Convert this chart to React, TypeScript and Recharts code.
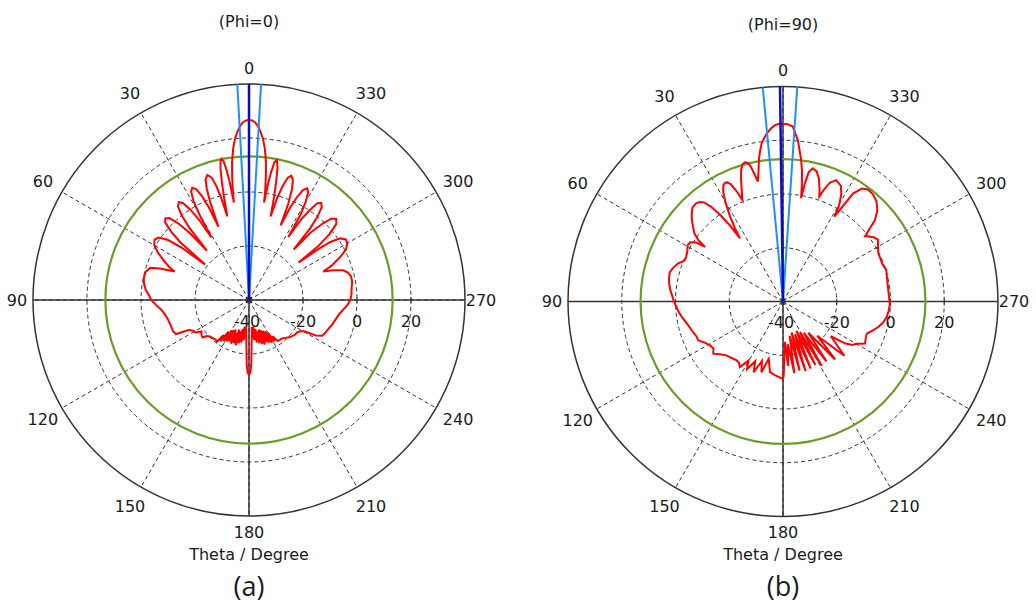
import React from "react";
import {
  PolarAngleAxis,
  PolarGrid,
  PolarRadiusAxis,
  Radar,
  RadarChart,
} from "recharts";

// theta (deg) / gain (dB)
const PHI0_PATTERN: [number, number][] = [
  [0, 26.7], [1, 26.5], [2, 25.8], [3, 24.4], [4, 22.3], [5, 19.8], [6, 16.3], [7, 11.5], [7.8, 6], [8.4, 1], [8.8, -3.5],
  [9.3, 4], [9.8, 9], [10.4, 12.3], [11, 13.2], [11.6, 12.5], [12.3, 9.5], [13, 4.5], [13.7, -1], [14.5, -8],
  [15.2, -1], [16, 4], [17, 7.5], [18.4, 8.8], [19.8, 7.5], [20.8, 4], [21.7, -1.5], [22.6, -10.6],
  [23.4, -3], [24.3, 2], [25.5, 5.5], [26.8, 6.6], [28.1, 5.5], [29.3, 2], [30.2, -4], [31, -13],
  [31.9, -5], [33, 0], [34.3, 3.5], [35.7, 4.6], [37.2, 3.5], [38.5, 0], [39.6, -5.5], [40.5, -16],
  [41.5, -7], [42.7, -1.5], [44.2, 2.3], [45.7, 3.3], [47.2, 2.3], [48.7, -1.5], [50, -7], [51, -19],
  [52.2, -8], [53.5, -2.5], [55.5, 0.8], [57.5, 1.5], [60, 0.5], [62.5, -2], [65, -5], [67.5, -8], [69, -10.5],
  [70.5, -5], [72, -1.5], [75, -0.3], [78, -0.2], [81, -0.6], [84.5, -1.6], [87, -2.8], [90, -3.8],
  [93, -5.5], [96.5, -7.4], [100, -8.5], [104, -9.2], [108, -9.5], [112.5, -9.6], [115, -10.2], [116.5, -15],
  [119, -16.5], [121, -16.7], [123.5, -18.9], [126, -18.2], [129, -17.9], [130.5, -19.5], [133, -20.2],
  [137, -20.6], [140, -20.8], [142.5, -20.5],
  [144, -24], [145.5, -21.5], [147, -26], [148.5, -22], [150, -27], [151.5, -22.5], [153, -27.5], [154.5, -23],
  [156, -28], [157.5, -22.5], [159, -27], [160.5, -23], [162, -28.5], [163.5, -22.5], [165, -28], [166.5, -23.5],
  [168, -29], [169.5, -24], [171, -30], [172.5, -25], [174, -30], [175.5, -27], [177, -22], [178, -16],
  [179, -13], [180, -12.3], [181, -13], [182, -16], [183, -22],
  [184.5, -27], [186, -30], [187.5, -25], [189, -30], [190.5, -24], [192, -29], [193.5, -23.5], [195, -28],
  [196.5, -23], [198, -28.5], [199.5, -22.5], [201, -28], [202.5, -23], [204, -27.5], [205.5, -22.5], [207, -27],
  [208.5, -22], [210, -26], [211.5, -22], [213, -24], [215, -21.5],
  [217, -21.3], [220.5, -21.3], [224, -20.5], [228, -19.5], [233, -18.7], [236, -18.5], [238.5, -17.8],
  [240.5, -16.5], [242, -12], [244, -9.8], [246.5, -9.3], [250, -8.7], [253, -8], [257, -7.2], [260.5, -6.4],
  [264, -5], [267, -3.5], [270, -2.5],
  [273, -2], [276, -1.8], [280, -1.2], [283, -1.2], [285.5, -2], [287.5, -3.5], [289.5, -7], [291, -10.5],
  [292.5, -7], [295, -3], [297.5, 0.5], [300, 2], [302, 2.3], [304, 0.8], [305.5, -3], [306.3, -8], [307, -17],
  [308, -7], [309.3, -1.5], [311, 2.8], [312.9, 4.1], [314.6, 3], [316, -0.5], [317.5, -6], [318.5, -15],
  [319.5, -5], [320.6, 0], [322, 3.8], [323.4, 4.8], [324.8, 3.8], [326, 0], [327.1, -4.5], [328, -12.5],
  [328.9, -3], [330, 2], [331.2, 5.5], [332.5, 6.6], [333.8, 5.5], [335, 2], [336.1, -3], [337, -10],
  [337.8, -1.5], [338.8, 4], [340, 7.5], [341.2, 8.6], [342.4, 7.5], [343.5, 4], [344.6, -1], [345.5, -8],
  [346.3, -1], [347, 4.5], [347.8, 10], [348.7, 12.8], [349.5, 12], [350.2, 8], [350.7, 3.5], [351.2, -3.5],
  [351.6, 1], [352.2, 6], [353, 11.5], [354, 16.3], [355, 19.8], [356, 22.3], [357, 24.4], [358, 25.8],
  [359, 26.5], [360, 26.7],
];

const PHI90_PATTERN: [number, number][] = [
  [0, 26.1], [1, 26.2], [2.6, 25.7], [4, 24.5], [5.5, 22.9], [7.7, 19.4], [8.8, 16.2], [9.6, 13.7], [10.6, 9.5], [11.8, 5.6],
  [12.6, 8.5], [13.5, 11.8], [14.4, 13.3], [15.3, 13.7], [16.4, 13.2], [17.6, 11.5], [19, 8], [20.4, 4], [21.8, 0.7],
  [22.8, 4.5], [24, 7.7], [25, 8.9], [26, 9.2], [27.2, 8.6], [28.6, 6.5], [30.2, 2.5], [32, -3], [33.3, -7.5], [34.2, -11.6],
  [35, -5], [36, 0], [37.3, 4.5], [38.6, 7.2], [40, 8.3], [41.5, 8.8], [44, 8.5], [46, 7.2], [48.2, 5.5],
  [50.5, 3.3], [52.5, 1.5], [54, -1], [55, -4.6],
  [55.8, -1], [57.5, 1], [59.5, 1.2], [62, 0.3], [65, -0.3], [67.5, -0.3], [70, 1.5], [72.5, 2.6], [75.5, 3.5],
  [78.5, 3.3], [81, 2.9], [84, 2.2], [87, 1.3], [90, 0.6],
  [91.2, 0.2], [95, -0.8], [98.7, -1.9], [102.8, -3.3], [107.5, -4.4], [112, -5.3], [114.6, -5.3], [117.5, -7],
  [121, -8.3], [124, -8.8], [126.8, -7.6], [130, -9.5], [133.7, -11], [137, -11.5], [141.8, -12.1], [144, -12],
  [146.7, -10.8], [149.7, -14.5], [152, -11.5], [155, -15.5], [157.5, -11.5], [160.5, -16.5], [163, -12.5],
  [166, -18], [169.6, -13.3], [172, -12.8], [174, -12.4], [177, -11.8], [179.5, -11.3], [180.5, -12], [181.5, -20],
  [182.8, -25],
  [184.5, -16], [186.5, -24], [189, -13], [191, -27], [193.5, -13.5], [195.5, -28], [198, -12.7], [200, -27],
  [202.5, -13], [204.5, -28], [207, -13.5], [209, -27], [211, -12], [213.5, -26], [216, -12.5], [219, -25],
  [222, -11], [225, -22], [228.5, -9.5], [231, -14], [234, -18], [236, -12], [238, -9.5], [240, -8.5],
  [242.8, -5.7], [246, -6.3], [249, -6.6], [252, -5], [255, -3.3], [258, -2], [261.5, -1], [265, -0.5], [268.8, -0.2],
  [272, -0.5], [276, -0.6], [282, -0.4], [287, 0.2], [291, -0.5], [294, -0.4], [297, -0.2], [300, 0.8], [303, 2.2],
  [305, 1.5], [307, 0.2], [308.5, -1],
  [310, 2], [311.5, 5.7], [314, 8.8], [317, 11], [320, 12.1], [322.8, 12.3], [325, 11.3], [327, 8], [328.8, -3.1],
  [329.8, 1.5], [331.5, 5.5], [333.5, 8.2], [336.4, 9.3], [338.5, 7.5], [340, 4], [340.9, 1.3],
  [342, 4], [343.8, 7.8], [345.5, 10], [347.4, 10.8], [348.8, 9], [349.6, 4], [350.1, -1],
  [350.8, 4], [351.7, 9], [352.7, 13.1], [354, 17.5], [354.8, 20.4], [356.8, 25.2], [358.5, 26], [360, 26.1],
];

// side lobe level (green circle), dB
const SLL_PHI0 = 13.2;
const SLL_PHI90 = 13.0;

// main lobe direction and 3 dB edges, deg
const MAIN_DIR = [0, 0.8];
const BEAM_EDGES: [number, number][] = [
  [3.1, 356.8],
  [5.4, 356.2],
];

const ANGLE_TICKS = [0, 30, 60, 90, 120, 150, 180, 210, 240, 270, 300, 330];
const AXIS_ANGLES = [0, 90, 180, 270];
const RADIUS_TICKS = [-40, -20, 0, 20];
const RADIUS_DOMAIN: [number, number] = [-40, 40];
const ANGLE_DOMAIN: [number, number] = [0, 360];

const W = 518;
const H = 605;
const FONT = '"DejaVu Sans", Verdana, sans-serif';
const TEXT = "#1a1a1a";

function AngleTick(props: any) {
  const { x, y, payload } = props;
  const a = (payload.coordinate * Math.PI) / 180;
  const extra = payload.value % 90 === 0 ? 0 : 6;
  const nudge = Math.cos(a) > 0.1 && Math.cos(a) < 0.99 ? 3 : 0;
  return (
    <text
      x={x + extra * Math.cos(a) + nudge}
      y={y - extra * Math.sin(a)}
      textAnchor="middle"
      dominantBaseline="central"
      fontSize={16}
      fontFamily={FONT}
      fill={TEXT}
    >
      {payload.value}
    </text>
  );
}

function RadiusTick(props: any) {
  const { x, y, payload } = props;
  if (payload.value === 40) return null;
  const isCenter = payload.value === -40;
  return (
    <g>
      {isCenter ? (
        <g stroke="#222" strokeWidth={1}>
          <line x1={x - 4} y1={y} x2={x + 4} y2={y} />
          <line x1={x} y1={y - 4} x2={x} y2={y + 4} />
          <line x1={x - 3} y1={y - 3} x2={x + 3} y2={y + 3} />
          <line x1={x - 3} y1={y + 3} x2={x + 3} y2={y - 3} />
        </g>
      ) : (
        <line x1={x} y1={y - 3} x2={x} y2={y + 3} stroke="#333" />
      )}
      <text
        x={isCenter ? x - 2 : x}
        y={y + 21}
        textAnchor="middle"
        dominantBaseline="central"
        fontSize={16}
        fontFamily={FONT}
        fill={TEXT}
      >
        {payload.value}
      </text>
    </g>
  );
}

const layer: React.CSSProperties = { position: "absolute", left: 0, top: 0 };

function Label({ x, y, size, family, children }: any) {
  return (
    <div
      style={{
        position: "absolute",
        left: x,
        top: y,
        transform: "translate(-50%, -50%)",
        whiteSpace: "nowrap",
        fontSize: size,
        lineHeight: 1,
        fontFamily: family,
        color: TEXT,
      }}
    >
      {children}
    </div>
  );
}

function PolarPanel({
  left,
  cx,
  cy,
  radius,
  pattern,
  sll,
  dir,
  edges,
  title,
  titleY,
  caption,
}: {
  left: number;
  cx: number;
  cy: number;
  radius: number;
  pattern: [number, number][];
  sll: number;
  dir: number;
  edges: [number, number];
  title: string;
  titleY: number;
  caption: string;
}) {
  const rows = pattern.map(([theta, gain]) => ({ theta, gain }));
  const [lo, hi] = RADIUS_DOMAIN;
  const beamRows = [
    { theta: edges[0], e1: hi, e2: lo, db: lo },
    { theta: dir, e1: lo, e2: lo, db: hi },
    { theta: edges[1], e1: lo, e2: hi, db: lo },
  ];
  const common = {
    width: W,
    height: H,
    cx,
    cy,
    innerRadius: 0,
    outerRadius: radius,
    startAngle: 90,
    endAngle: 450,
    margin: { top: 0, right: 0, bottom: 0, left: 0 },
  };
  const hiddenAxes = (ticks: number[], rTicks: number[]) => [
    <PolarAngleAxis
      key="a"
      dataKey="theta"
      type="number"
      domain={ANGLE_DOMAIN}
      ticks={ticks}
      tick={false}
      tickLine={false}
      axisLine={false}
    />,
    <PolarRadiusAxis
      key="r"
      angle={0}
      type="number"
      domain={RADIUS_DOMAIN}
      ticks={rTicks}
      tick={false}
      axisLine={false}
    />,
  ];
  // invisible series so the radius axis gets a scale in layers without marks
  const ghost = (
    <Radar
      dataKey="gain"
      stroke="none"
      fill="none"
      fillOpacity={0}
      dot={false}
      isAnimationActive={false}
    />
  );
  const line = (key: string, color: string, width: number) => (
    <Radar
      key={key}
      dataKey={key}
      stroke={color}
      strokeWidth={width}
      fill="none"
      fillOpacity={0}
      dot={false}
      isAnimationActive={false}
    />
  );

  return (
    <div style={{ position: "absolute", left, top: 0, width: W, height: H }}>
      {/* dashed grid and labels */}
      <div style={layer}>
        <RadarChart {...common} data={rows}>
          <PolarGrid gridType="circle" stroke="#333" strokeDasharray="4 3" />
          <PolarAngleAxis
            dataKey="theta"
            type="number"
            domain={ANGLE_DOMAIN}
            ticks={ANGLE_TICKS}
            axisLine={false}
            tickLine={false}
            tickSize={16}
            tick={(p: any) => <AngleTick {...p} />}
          />
          <PolarRadiusAxis
            angle={0}
            type="number"
            domain={RADIUS_DOMAIN}
            ticks={RADIUS_TICKS}
            axisLine={false}
            tick={(p: any) => <RadiusTick {...p} />}
          />
          {ghost}
        </RadarChart>
      </div>
      {/* solid axes and outer circle */}
      <div style={layer}>
        <RadarChart {...common} data={rows}>
          <PolarGrid gridType="circle" stroke="#333" strokeWidth={1.5} />
          {hiddenAxes(AXIS_ANGLES, [hi])}
          {ghost}
        </RadarChart>
      </div>
      {/* side lobe level */}
      <div style={layer}>
        <RadarChart {...common} data={rows}>
          <PolarGrid
            gridType="circle"
            radialLines={false}
            stroke="#6e9a2a"
            strokeWidth={2.2}
          />
          {hiddenAxes(AXIS_ANGLES, [sll])}
          {ghost}
        </RadarChart>
      </div>
      {/* far-field pattern */}
      <div style={layer}>
        <RadarChart {...common} data={rows}>
          {hiddenAxes(AXIS_ANGLES, [hi])}
          {line("gain", "#ff0000", 2)}
        </RadarChart>
      </div>
      {/* main lobe direction + 3 dB beam width */}
      <div style={layer}>
        <RadarChart {...common} data={beamRows}>
          {hiddenAxes(AXIS_ANGLES, [hi])}
          {line("e1", "#1e8fff", 2)}
          {line("e2", "#1e8fff", 2)}
          {line("db", "#0a0acc", 2.5)}
        </RadarChart>
      </div>
      <Label x={cx} y={titleY} size={16} family={FONT}>
        {title}
      </Label>
      <Label x={cx} y={555} size={16} family={FONT}>
        Theta / Degree
      </Label>
      <Label x={cx} y={585} size={27} family='"Open Sans", sans-serif'>
        {caption}
      </Label>
    </div>
  );
}

export default function App() {
  return (
    <div
      style={{
        position: "absolute",
        left: 0,
        top: 0,
        width: 1036,
        height: 605,
        background: "#fff",
        overflow: "hidden",
      }}
    >
      <PolarPanel
        left={0}
        cx={249}
        cy={300}
        radius={216}
        pattern={PHI0_PATTERN}
        sll={SLL_PHI0}
        dir={MAIN_DIR[0]}
        edges={BEAM_EDGES[0]}
        title="(Phi=0)"
        titleY={22}
        caption="(a)"
      />
      <PolarPanel
        left={518}
        cx={265}
        cy={301.5}
        radius={215}
        pattern={PHI90_PATTERN}
        sll={SLL_PHI90}
        dir={MAIN_DIR[1]}
        edges={BEAM_EDGES[1]}
        title="(Phi=90)"
        titleY={25}
        caption="(b)"
      />
    </div>
  );
}
